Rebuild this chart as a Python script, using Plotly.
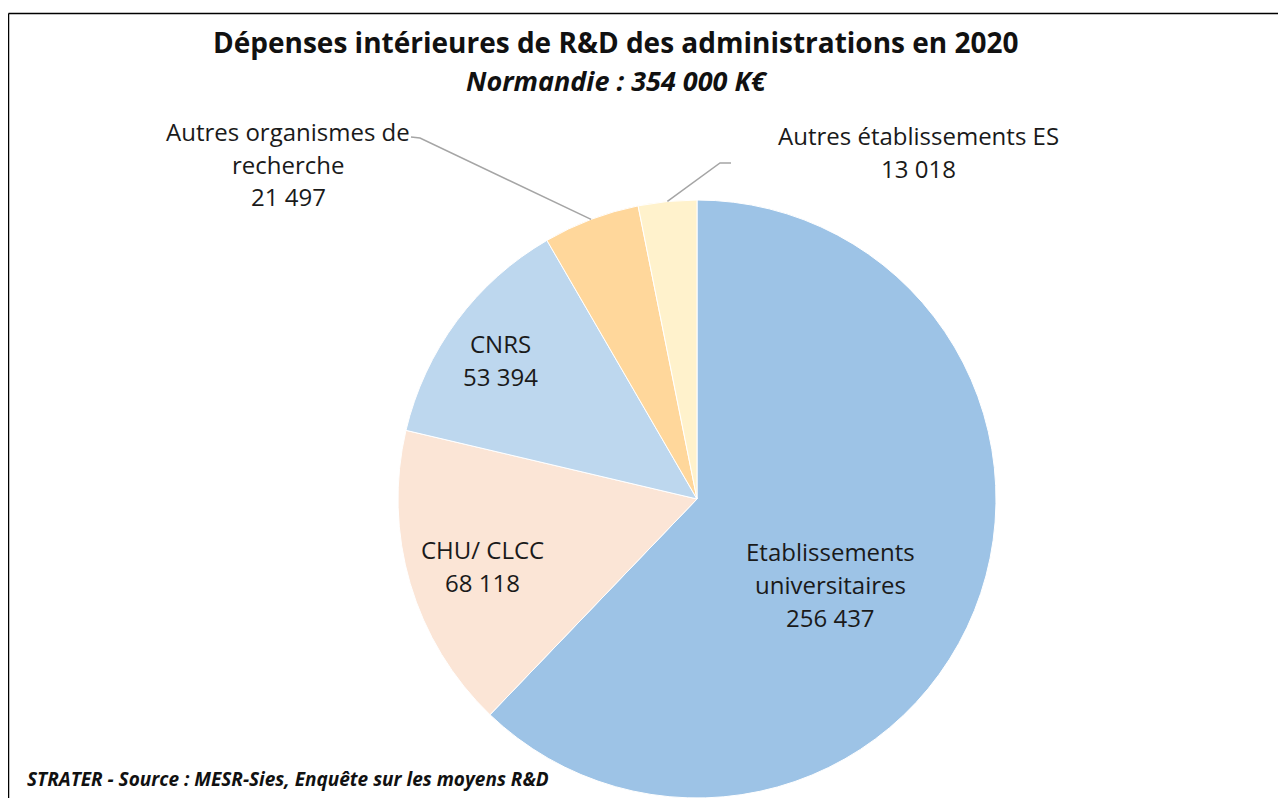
"""Dépenses intérieures de R&D des administrations — Normandie 2020 (Plotly pie)."""

import numpy as np
import plotly.graph_objects as go

W, H = 1286, 798
OFF = 8  # default body margin of the html page

# --- data ------------------------------------------------------------------
categories = ["Etablissements universitaires", "CHU/ CLCC", "CNRS",
              "Autres organismes de recherche", "Autres établissements ES"]
values = [256437, 68118, 53394, 21497, 13018]
colors = ["#9DC3E6", "#FBE5D6", "#BDD7EE", "#FFD79B", "#FFF2CC"]
label_lines = [["Etablissements", "universitaires", "256 437"],
               ["CHU/ CLCC", "68 118"],
               ["CNRS", "53 394"],
               ["Autres organismes de", "recherche", "21 497"],
               ["Autres établissements ES", "13 018"]]

title = "Dépenses intérieures de R&D des administrations en 2020"
subtitle = "Normandie : 354 000 K€"
source = "STRATER - Source : MESR-Sies, Enquête sur les moyens R&D"

# --- geometry (screen px) --------------------------------------------------
CX, CY, R = 697, 499, 299
LINE_H = 33
label_pos = [(831, 551), (482, 549), (500, 343), (288, 131), (919, 135)]
leader_elbow = [None, None, None, [(420, 138), (411, 137)], [(720, 163), (731, 163)]]


def px(x, y):
    """screen px -> paper coords"""
    return (x - OFF) / W, 1 - (y - OFF) / H


FONT = "Open Sans"

x0, y_top = px(CX - R, CY - R)
x1, y_bot = px(CX + R, CY + R)
fig = go.Figure(go.Pie(
    labels=categories, values=values, sort=False, direction="clockwise",
    rotation=0, textinfo="none", hoverinfo="label+value",
    marker=dict(colors=colors, line=dict(color="white", width=1)),
    domain=dict(x=[x0, x1], y=[max(y_bot, 0), y_top]),
    showlegend=False,
))

annotations = []
for lines, (lx, ly) in zip(label_lines, label_pos):
    for i, t in enumerate(lines):
        x, y = px(lx, ly + i * LINE_H)
        annotations.append(dict(x=x, y=y, xref="paper", yref="paper",
                                text=t, showarrow=False, xanchor="center",
                                yanchor="middle",
                                font=dict(family=FONT, size=24, color="#1a1a1a")))

# leader lines: from slice mid-angle on circumference to the label elbow
shapes = []
total = sum(values)
cum = np.cumsum([0] + values)
for i, elbow in enumerate(leader_elbow):
    if elbow is None:
        continue
    mid = (cum[i] + cum[i + 1]) / 2 / total * 2 * np.pi
    pts = [(CX + R * np.sin(mid), CY - R * np.cos(mid))] + elbow
    path = "M " + " L ".join(f"{px(a, b)[0]},{px(a, b)[1]}" for a, b in pts)
    shapes.append(dict(type="path", path=path, xref="paper", yref="paper",
                       line=dict(color="#A5A5A5", width=1.5)))

# frame (top + left edges)
fx, fy = px(8.5, 13.5)
shapes.append(dict(type="line", xref="paper", yref="paper",
                   x0=fx, x1=1.0, y0=fy, y1=fy,
                   line=dict(color="black", width=1.5)))
shapes.append(dict(type="line", xref="paper", yref="paper",
                   x0=fx, x1=fx, y0=0, y1=fy,
                   line=dict(color="black", width=1.5)))

x, y = px(616, 42)
annotations.append(dict(x=x, y=y, xref="paper", yref="paper", text=f"<b>{title}</b>",
                        showarrow=False, yanchor="middle",
                        font=dict(family=FONT, size=28, color="#111")))
x, y = px(617, 80)
annotations.append(dict(x=x, y=y, xref="paper", yref="paper",
                        text=f"<b><i>{subtitle}</i></b>", showarrow=False,
                        yanchor="middle",
                        font=dict(family=FONT, size=27, color="#111")))
x, y = px(25, 779)
annotations.append(dict(x=x, y=y, xref="paper", yref="paper", xanchor="left",
                        yanchor="middle",
                        text=f"<b><i>{source}</i></b>", showarrow=False,
                        font=dict(family=FONT, size=19, color="#111")))

fig.update_layout(
    width=W, height=H, margin=dict(l=0, r=0, t=0, b=0),
    paper_bgcolor="white", plot_bgcolor="white",
    annotations=annotations, shapes=shapes,
)

fig.write_html("out.html")
